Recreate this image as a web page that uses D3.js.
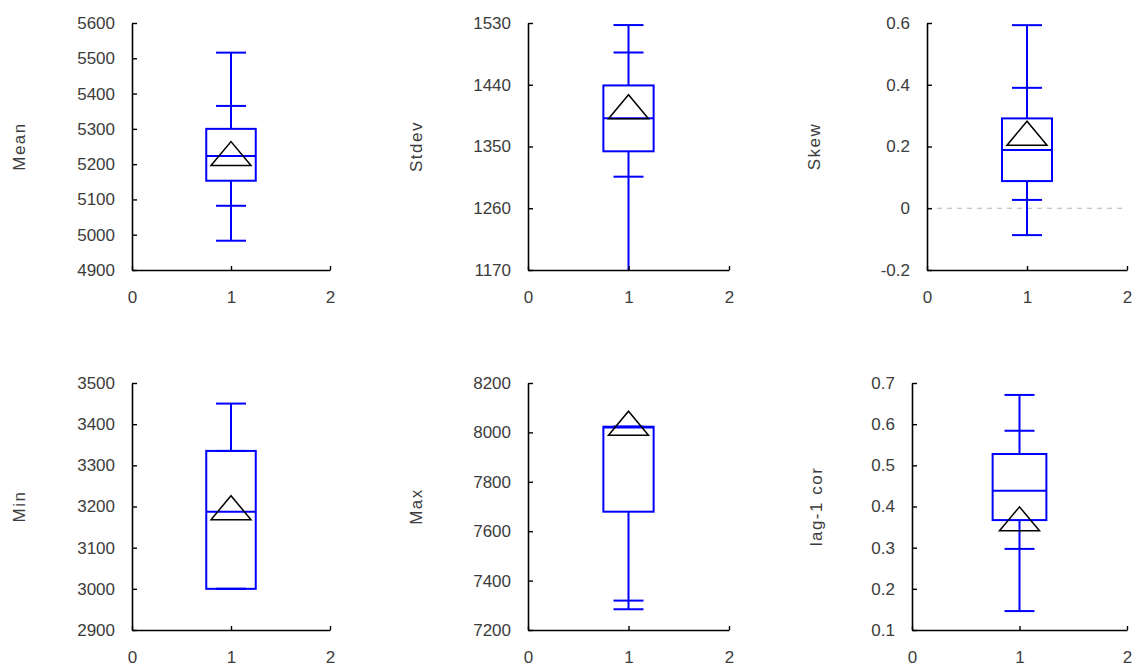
<!DOCTYPE html>
<html>
<head>
<meta charset="utf-8">
<script src="https://cdn.jsdelivr.net/npm/d3@7"></script>
<style>
  body { margin: 0; background: #fff; }
  text { font-family: "Liberation Sans", Arial, sans-serif; }
</style>
</head>
<body>
<div id="chart"></div>
<script>
// stat names and box summaries
var names   = ["Mean", "Stdev", "Skew", "Min", "Max", "lag-1 cor"];
var whiskLo = [4983, 1160, -0.087, 3000, 7284, 0.146];
var capLo   = [5082, 1306, 0.027, 3000, 7319, 0.297];
var q1      = [5153, 1343, 0.088, 3000, 7679, 0.367];
var median  = [5223, 1391, 0.189, 3187, 8020, 0.438];
var q3      = [5300, 1439, 0.291, 3335, 8023, 0.5275];
var capHi   = [5365, 1487, 0.390, 3335, 8023, 0.584];
var whiskHi = [5516, 1527, 0.593, 3450, 8023, 0.671];
var means   = [5230, 1408, 0.243, 3197, 8037, 0.370];

var yTicks = [
  [4900, 5000, 5100, 5200, 5300, 5400, 5500, 5600],
  [1170, 1260, 1350, 1440, 1530],
  [-0.2, 0, 0.2, 0.4, 0.6],
  [2900, 3000, 3100, 3200, 3300, 3400, 3500],
  [7200, 7400, 7600, 7800, 8000, 8200],
  [0.1, 0.2, 0.3, 0.4, 0.5, 0.6, 0.7]
];
var yLabels = [
  ["4900", "5000", "5100", "5200", "5300", "5400", "5500", "5600"],
  ["1170", "1260", "1350", "1440", "1530"],
  ["-0.2", "0", "0.2", "0.4", "0.6"],
  ["2900", "3000", "3100", "3200", "3300", "3400", "3500"],
  ["7200", "7400", "7600", "7800", "8000", "8200"],
  ["0.1", "0.2", "0.3", "0.4", "0.5", "0.6", "0.7"]
];
var xTicks = [0, 1, 2];
var refLine = [null, null, 0, null, null, null];

// panel placement
var lefts  = [132, 528, 927, 132, 528, 912];
var rights = [330, 729, 1127, 330, 729, 1127];
var tops   = [23, 23, 23, 383, 383, 383];
var ph = 247;
var labelX = [19, 416, 814, 19, 416, 816];

var svg = d3.select("#chart").append("svg").attr("width", 1138).attr("height", 671);

names.forEach(function(name, i) {
  var w = rights[i] - lefts[i];
  var g = svg.append("g").attr("transform", "translate(" + lefts[i] + "," + tops[i] + ")");
  var y = d3.scaleLinear().domain(d3.extent(yTicks[i])).range([ph, 0]);
  var x = d3.scaleLinear().domain([0, 2]).range([0, w]);

  g.append("clipPath").attr("id", "clip" + i)
    .append("rect").attr("x", 0).attr("y", 0).attr("width", w).attr("height", ph);

  if (refLine[i] !== null) {
    g.append("line")
      .attr("x1", 0).attr("x2", w)
      .attr("y1", y(refLine[i])).attr("y2", y(refLine[i]))
      .attr("stroke", "#b4b4b4").attr("stroke-width", 1.2)
      .attr("stroke-dasharray", "5,5");
  }

  var b = g.append("g").attr("clip-path", "url(#clip" + i + ")")
    .attr("stroke", "#0000ff").attr("stroke-width", 2).attr("fill", "none");
  var cx = x(1), bw = x(1.25) - x(1), cw = 15;

  b.append("line").attr("x1", cx).attr("x2", cx).attr("y1", y(q3[i])).attr("y2", y(whiskHi[i]));
  b.append("line").attr("x1", cx).attr("x2", cx).attr("y1", y(q1[i])).attr("y2", y(whiskLo[i]));
  [whiskLo[i], capLo[i], capHi[i], whiskHi[i]].forEach(function(v) {
    b.append("line").attr("x1", cx - cw).attr("x2", cx + cw).attr("y1", y(v)).attr("y2", y(v));
  });
  b.append("rect")
    .attr("x", cx - bw).attr("width", 2 * bw)
    .attr("y", y(q3[i])).attr("height", y(q1[i]) - y(q3[i]));
  b.append("line").attr("x1", cx - bw).attr("x2", cx + bw)
    .attr("y1", y(median[i])).attr("y2", y(median[i]));

  // mean marker
  var my = y(means[i]);
  g.append("path")
    .attr("d", "M" + (cx - 20) + "," + (my + 12) + "L" + cx + "," + (my - 12) + "L" + (cx + 20) + "," + (my + 12) + "Z")
    .attr("fill", "none").attr("stroke", "#000").attr("stroke-width", 1.5);

  var ya = g.append("g").call(d3.axisLeft(y).tickValues(yTicks[i])
    .tickFormat(function(d, k) { return yLabels[i][k]; })
    .tickSizeInner(-5).tickSizeOuter(0).tickPadding(17));
  var xa = g.append("g").attr("transform", "translate(0," + ph + ")")
    .call(d3.axisBottom(x).tickValues(xTicks).tickFormat(d3.format("d"))
    .tickSizeInner(-4).tickSizeOuter(0).tickPadding(21));

  [ya, xa].forEach(function(a) {
    a.select(".domain").attr("stroke", "#000").attr("stroke-width", 1.6);
    a.selectAll(".tick line").attr("stroke", "#000").attr("stroke-width", 1.4);
    a.selectAll(".tick text").attr("fill", "#3c3c3c")
      .style("font-size", "17px").style("font-family", "'Liberation Sans', Arial, sans-serif");
  });

  svg.append("text")
    .attr("transform", "translate(" + labelX[i] + "," + (tops[i] + ph / 2) + ") rotate(-90)")
    .attr("text-anchor", "middle").attr("dy", "0.35em")
    .attr("fill", "#3c3c3c").style("font-size", "17px").style("letter-spacing", "1.5px")
    .text(name);
});
</script>
</body>
</html>
